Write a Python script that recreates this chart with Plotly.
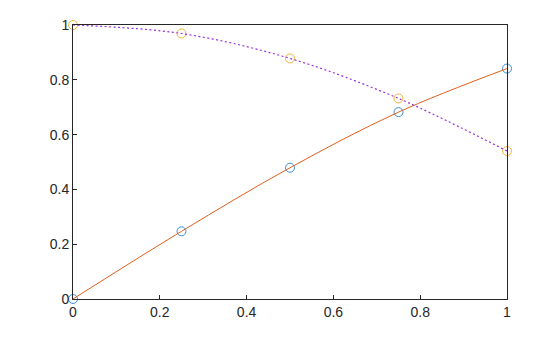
import plotly.graph_objects as go

x = [0, 0.25, 0.5, 0.75, 1.0]
sin_vals = [0.0, 0.247, 0.479, 0.682, 0.841]
cos_vals = [1.0, 0.969, 0.878, 0.732, 0.540]

fig = go.Figure()
fig.add_trace(go.Scatter(x=x, y=sin_vals, mode="markers",
                         marker=dict(symbol="circle-open", size=9, color="#3a8fd6", line=dict(width=1)),
                         cliponaxis=False, showlegend=False))
fig.add_trace(go.Scatter(x=x, y=cos_vals, mode="markers",
                         marker=dict(symbol="circle-open", size=9, color="#f0b43c", line=dict(width=1)),
                         cliponaxis=False, showlegend=False))
fig.add_trace(go.Scatter(x=x, y=sin_vals, mode="lines",
                         line=dict(color="#e0601c", width=1, shape="spline"),
                         cliponaxis=False, showlegend=False))
fig.add_trace(go.Scatter(x=x, y=cos_vals, mode="lines",
                         line=dict(color="#9a2ee0", width=1.2, shape="spline", dash="2px,2.5px"),
                         cliponaxis=False, showlegend=False))

axis_common = dict(showgrid=False, zeroline=False, showline=True, linecolor="#262626",
                   linewidth=1, mirror=True, ticks="inside", ticklen=4, tickcolor="#262626",
                   tickfont=dict(family="Liberation Sans, Arial", size=14, color="#262626"))
fig.update_xaxes(range=[0, 1], tickvals=[0, 0.2, 0.4, 0.6, 0.8, 1],
                 ticktext=["0", "0.2", "0.4", "0.6", "0.8", "1"], **axis_common)
fig.update_yaxes(range=[0, 1], tickvals=[0, 0.2, 0.4, 0.6, 0.8, 1],
                 ticktext=["0", "0.2", "0.4", "0.6", "0.8", "1"], **axis_common)
fig.update_layout(width=560, height=337, margin=dict(l=73, r=53, t=25, b=38),
                  plot_bgcolor="white", paper_bgcolor="white")
fig.write_html("out.html")
